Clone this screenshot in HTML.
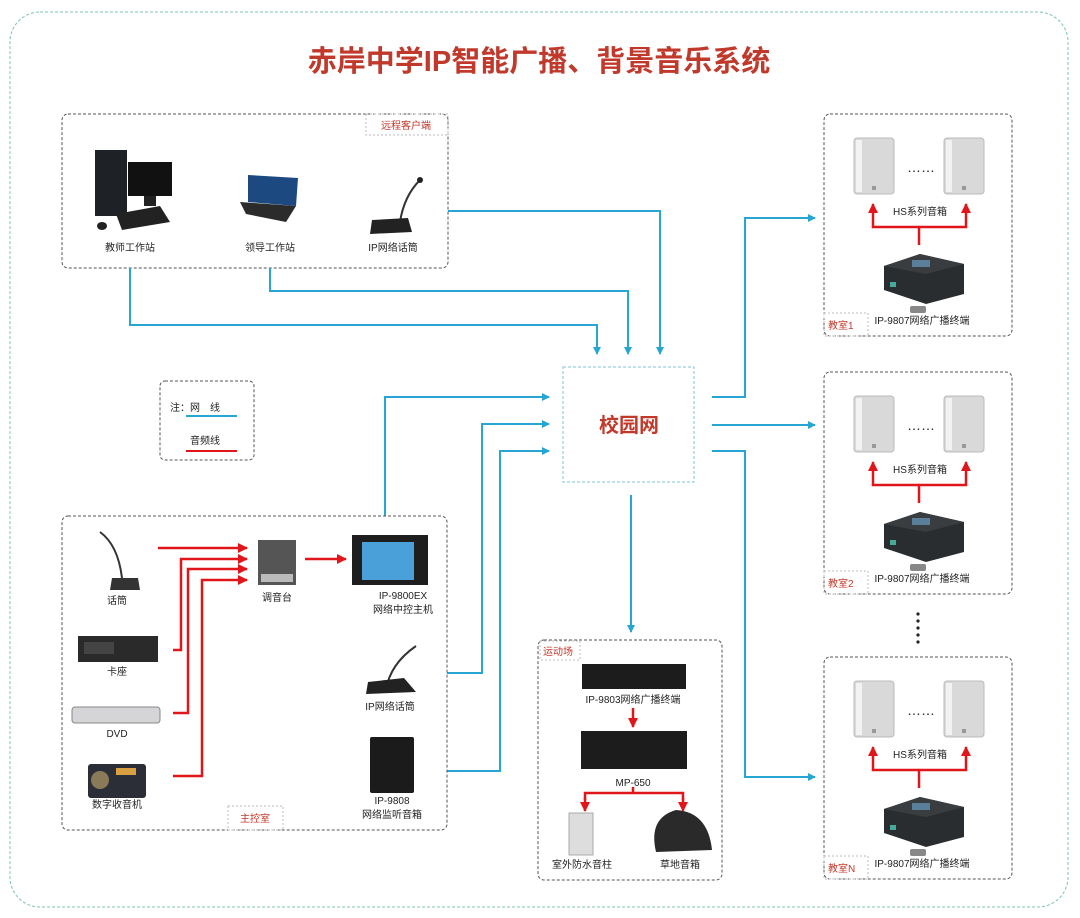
<!DOCTYPE html>
<html><head><meta charset="utf-8"><style>
html,body{margin:0;padding:0;background:#fff;}
svg{display:block;font-family:"Liberation Sans","Noto Sans CJK SC",sans-serif;}
.lb{font-size:10px;fill:#222;text-anchor:middle;}
.rl{font-size:10px;fill:#c0392b;}
</style></head><body>
<svg width="1080" height="918" viewBox="0 0 1080 918" xmlns="http://www.w3.org/2000/svg">
<defs>
<marker id="ab" markerWidth="8" markerHeight="8" refX="7" refY="4" orient="auto" markerUnits="userSpaceOnUse"><path d="M0,0 L8,4 L0,8 z" fill="#27a6d3"/></marker>
<marker id="ar" markerWidth="10" markerHeight="10" refX="9" refY="5" orient="auto" markerUnits="userSpaceOnUse"><path d="M0,0 L10,5 L0,10 z" fill="#e0161b"/></marker>
<g id="spk">
<rect x="0" y="0" width="40" height="56" rx="3" fill="#d9d9d9" stroke="#bbb"/>
<rect x="2" y="2" width="6" height="52" fill="#f2f2f2"/>
<rect x="18" y="48" width="4" height="4" fill="#999"/>
</g>
<g id="term">
<polygon points="4,12 40,0 84,10 84,40 46,50 4,36" fill="#2a2d2f"/>
<polygon points="4,12 40,0 84,10 46,20" fill="#3a3d40"/>
<rect x="32" y="6" width="18" height="7" fill="#5a7f9a"/>
<rect x="10" y="28" width="6" height="5" fill="#4a9"/>
<rect x="30" y="52" width="16" height="7" rx="2" fill="#888"/>
</g>
<g id="room">
<rect x="0" y="0" width="188" height="222" rx="6" fill="none" stroke="#555" stroke-dasharray="3,2"/>
<use href="#spk" x="30" y="24"/>
<use href="#spk" x="120" y="24"/>
<text x="97" y="58" font-size="14" fill="#222" text-anchor="middle">……</text>
<path d="M95,131 V113 H142 V90" fill="none" stroke="#e0161b" stroke-width="2.5" marker-end="url(#ar)"/>
<path d="M95,113 H49 V90" fill="none" stroke="#e0161b" stroke-width="2.5" marker-end="url(#ar)"/>
<use href="#term" x="56" y="140"/>
<rect x="0" y="199" width="44" height="23" fill="none" stroke="#bbb" stroke-dasharray="2,2"/>
</g>
</defs>

<rect x="10" y="12" width="1058" height="895" rx="30" fill="none" stroke="#7cc4a8" stroke-dasharray="3,2"/>
<text x="539" y="71" font-size="29" font-weight="bold" fill="#c0392b" text-anchor="middle">赤岸中学IP智能广播、背景音乐系统</text>

<rect x="62" y="114" width="386" height="154" rx="6" fill="none" stroke="#555" stroke-dasharray="3,2"/>
<rect x="366" y="114" width="82" height="21" fill="none" stroke="#bbb" stroke-dasharray="2,2"/>
<text x="381" y="129" class="rl">远程客户端</text>
<rect x="95" y="150" width="32" height="66" fill="#1e2226"/>
<rect x="128" y="162" width="44" height="34" fill="#111"/>
<rect x="144" y="196" width="12" height="10" fill="#222"/>
<polygon points="116,214 160,206 170,222 122,230" fill="#222"/>
<ellipse cx="102" cy="226" rx="5" ry="4" fill="#222"/>
<text x="130" y="251" class="lb">教师工作站</text>
<polygon points="248,175 298,178 296,206 248,202" fill="#1c4a80"/>
<polygon points="240,202 296,206 286,222 246,214" fill="#2b2b2b"/>
<text x="270" y="251" class="lb">领导工作站</text>
<path d="M400,222 Q404,196 420,180" stroke="#333" stroke-width="2" fill="none"/>
<circle cx="420" cy="180" r="3" fill="#222"/>
<polygon points="372,220 408,218 412,232 370,234" fill="#222"/>
<text x="393" y="251" class="lb">IP网络话筒</text>

<g fill="none" stroke="#27a6d3" stroke-width="2">
<path d="M130,268 V325 H597 V354" marker-end="url(#ab)"/>
<path d="M270,268 V291 H628 V354" marker-end="url(#ab)"/>
<path d="M448,211 H660 V354" marker-end="url(#ab)"/>
<path d="M385,516 V397 H549" marker-end="url(#ab)"/>
<path d="M447,673 H482 V424 H549" marker-end="url(#ab)"/>
<path d="M447,771 H500 V451 H549" marker-end="url(#ab)"/>
<path d="M712,397 H745 V218 H815" marker-end="url(#ab)"/>
<path d="M712,425 H815" marker-end="url(#ab)"/>
<path d="M712,451 H745 V777 H815" marker-end="url(#ab)"/>
<path d="M631,495 V632" marker-end="url(#ab)"/>
</g>

<rect x="563" y="367" width="131" height="115" fill="none" stroke="#7cc4d8" stroke-dasharray="3,2"/>
<text x="629" y="432" font-size="20" font-weight="bold" fill="#c0392b" text-anchor="middle">校园网</text>

<rect x="160" y="381" width="94" height="79" rx="5" fill="none" stroke="#555" stroke-dasharray="3,2"/>
<text x="170" y="411" font-size="10" fill="#222">注：网　线</text>
<line x1="186" y1="416" x2="237" y2="416" stroke="#27a6d3" stroke-width="2"/>
<text x="190" y="444" font-size="10" fill="#222">音频线</text>
<line x1="186" y1="451" x2="237" y2="451" stroke="#e0161b" stroke-width="2"/>

<rect x="62" y="516" width="385" height="314" rx="6" fill="none" stroke="#555" stroke-dasharray="3,2"/>
<rect x="228" y="806" width="55" height="24" fill="none" stroke="#bbb" stroke-dasharray="2,2"/>
<text x="240" y="822" class="rl">主控室</text>
<path d="M100,532 Q118,545 122,578" stroke="#333" stroke-width="2" fill="none"/>
<polygon points="112,578 138,578 140,590 110,590" fill="#333"/>
<text x="117" y="604" class="lb">话筒</text>
<rect x="78" y="636" width="80" height="26" fill="#2a2a2a"/>
<rect x="84" y="642" width="30" height="12" fill="#444"/>
<text x="117" y="675" class="lb">卡座</text>
<rect x="72" y="707" width="88" height="16" rx="3" fill="#d5d5d8" stroke="#888"/>
<text x="117" y="737" class="lb">DVD</text>
<rect x="88" y="764" width="58" height="34" rx="3" fill="#2b2e36"/>
<circle cx="100" cy="780" r="9" fill="#8a7a58"/>
<rect x="116" y="768" width="20" height="7" fill="#d8a040"/>
<text x="117" y="808" class="lb">数字收音机</text>
<g fill="none" stroke="#e0161b" stroke-width="2.5">
<path d="M158,548 H247" marker-end="url(#ar)"/>
<path d="M173,650 H181 V559 H247" marker-end="url(#ar)"/>
<path d="M173,713 H188 V569 H247" marker-end="url(#ar)"/>
<path d="M173,776 H202 V580 H247" marker-end="url(#ar)"/>
<path d="M305,559 H346" marker-end="url(#ar)"/>
</g>
<rect x="258" y="540" width="38" height="45" fill="#555"/>
<rect x="261" y="574" width="32" height="8" fill="#bbb"/>
<text x="277" y="601" class="lb">调音台</text>
<rect x="352" y="535" width="76" height="50" fill="#1e1e1e"/>
<rect x="362" y="542" width="52" height="38" fill="#4aa0d8"/>
<text x="403" y="599" class="lb">IP-9800EX</text>
<text x="403" y="613" class="lb">网络中控主机</text>
<path d="M386,690 Q390,664 416,646" stroke="#333" stroke-width="2" fill="none"/>
<polygon points="368,682 404,678 416,692 366,694" fill="#222"/>
<text x="390" y="710" class="lb">IP网络话筒</text>
<rect x="370" y="737" width="44" height="56" rx="2" fill="#1b1b1b"/>
<text x="392" y="804" class="lb">IP-9808</text>
<text x="392" y="818" class="lb">网络监听音箱</text>

<rect x="538" y="640" width="184" height="240" rx="6" fill="none" stroke="#555" stroke-dasharray="3,2"/>
<rect x="540" y="641" width="40" height="19" fill="none" stroke="#bbb" stroke-dasharray="2,2"/>
<text x="543" y="655" class="rl">运动场</text>
<rect x="582" y="664" width="104" height="25" fill="#1c1c1c"/>
<text x="633" y="703" class="lb">IP-9803网络广播终端</text>
<path d="M633,708 V727" stroke="#e0161b" stroke-width="2.5" marker-end="url(#ar)"/>
<rect x="581" y="731" width="106" height="38" fill="#1c1c1c"/>
<text x="633" y="786" class="lb">MP-650</text>
<path d="M633,787 V793 H585 V800 M633,793 H683 V800" fill="none" stroke="#e0161b" stroke-width="2.5"/>
<path d="M585,798 V811" stroke="#e0161b" stroke-width="2.5" marker-end="url(#ar)"/>
<path d="M683,798 V811" stroke="#e0161b" stroke-width="2.5" marker-end="url(#ar)"/>
<rect x="569" y="813" width="24" height="42" fill="#ddd" stroke="#aaa"/>
<path d="M656,852 Q648,818 676,810 Q708,812 712,850 Z" fill="#2a2a2a"/>
<text x="582" y="868" class="lb">室外防水音柱</text>
<text x="680" y="868" class="lb">草地音箱</text>

<use href="#room" x="824" y="114"/>
<text x="920" y="215" class="lb">HS系列音箱</text>
<text x="922" y="324" class="lb">IP-9807网络广播终端</text>
<text x="828" y="329" class="rl">教室1</text>

<use href="#room" x="824" y="372"/>
<text x="920" y="473" class="lb">HS系列音箱</text>
<text x="922" y="582" class="lb">IP-9807网络广播终端</text>
<text x="828" y="587" class="rl">教室2</text>

<use href="#room" x="824" y="657"/>
<text x="920" y="758" class="lb">HS系列音箱</text>
<text x="922" y="867" class="lb">IP-9807网络广播终端</text>
<text x="828" y="872" class="rl">教室N</text>

<g fill="#222"><circle cx="918" cy="614" r="1.6"/><circle cx="918" cy="621" r="1.6"/><circle cx="918" cy="628" r="1.6"/><circle cx="918" cy="635" r="1.6"/><circle cx="918" cy="642" r="1.6"/></g>
</svg>
</body></html>
